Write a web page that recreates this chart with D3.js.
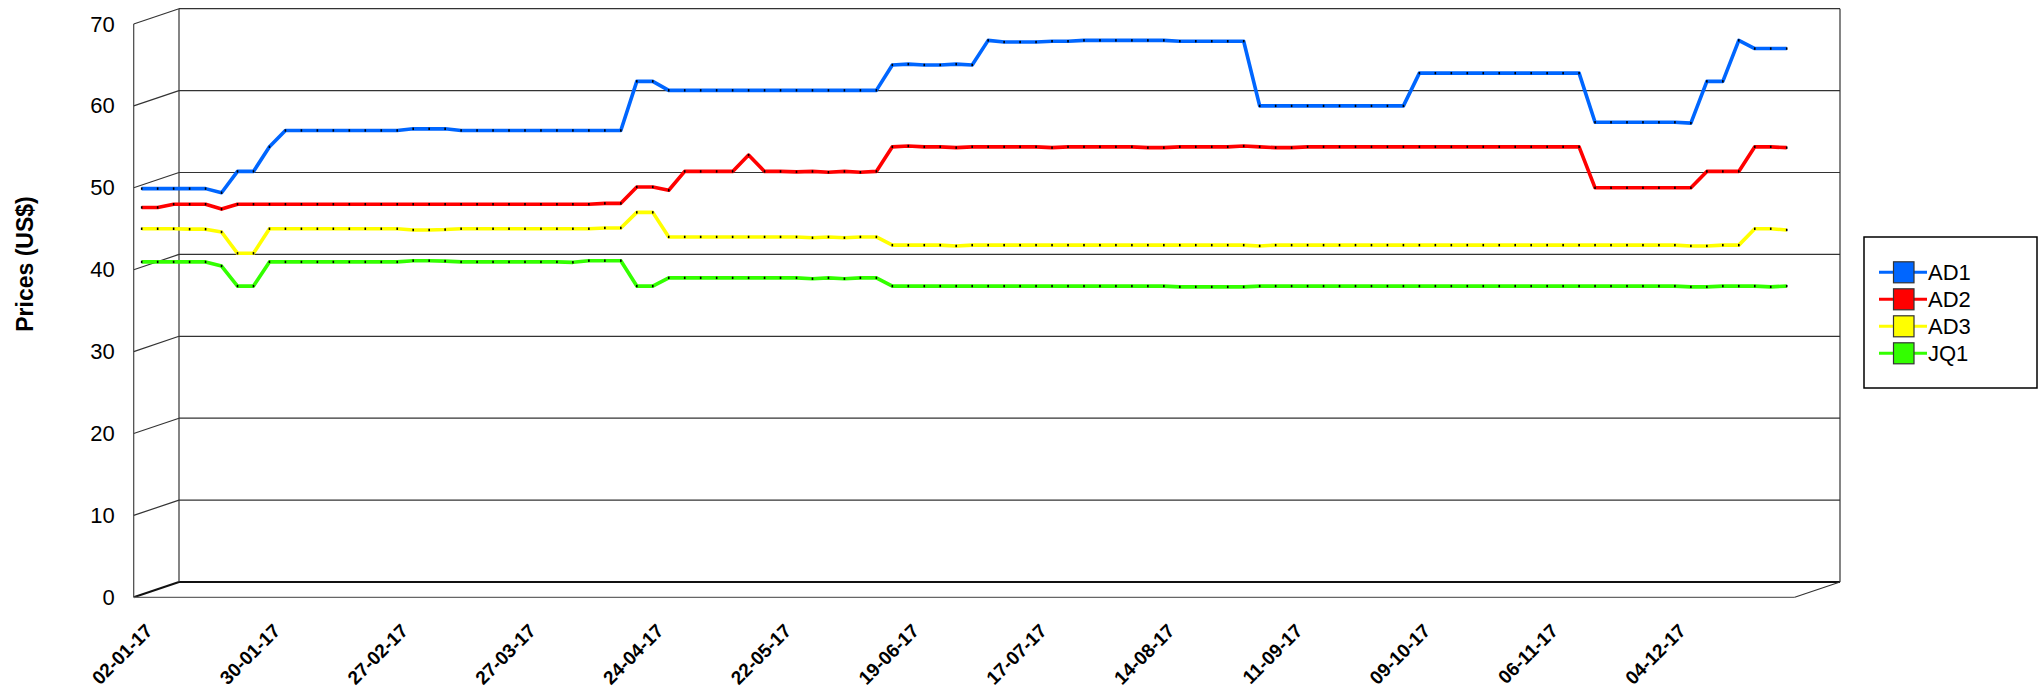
<!DOCTYPE html>
<html>
<head>
<meta charset="utf-8">
<script src="https://d3js.org/d3.v7.min.js"></script>
<style>
body { margin: 0; background: #fff; }
text { font-family: "Liberation Sans", Arial, sans-serif; }
</style>
</head>
<body>
<script>
// twice-weekly prices, 2017
var seriesNames = ['AD1', 'AD2', 'AD3', 'JQ1'];
var seriesColors = ['#0066ff', '#ff0000', '#ffff00', '#33ff00'];

var ad1 = [49.9, 49.9, 49.9, 49.9, 49.9, 49.4, 52, 52, 55, 57,
  57, 57, 57, 57, 57, 57, 57, 57.2, 57.2, 57.2,
  57, 57, 57, 57, 57, 57, 57, 57, 57, 57,
  57, 63, 63, 61.9, 61.9, 61.9, 61.9, 61.9, 61.9, 61.9,
  61.9, 61.9, 61.9, 61.9, 61.9, 61.9, 61.9, 65, 65.1, 65,
  65, 65.1, 65, 68, 67.8, 67.8, 67.8, 67.9, 67.9, 68,
  68, 68, 68, 68, 68, 67.9, 67.9, 67.9, 67.9, 67.9,
  60, 60, 60, 60, 60, 60, 60, 60, 60, 60,
  64, 64, 64, 64, 64, 64, 64, 64, 64, 64,
  64, 58, 58, 58, 58, 58, 58, 57.9, 63, 63,
  68, 67, 67, 67];

var ad2 = [47.6, 47.6, 48, 48, 48, 47.4, 48, 48, 48, 48,
  48, 48, 48, 48, 48, 48, 48, 48, 48, 48,
  48, 48, 48, 48, 48, 48, 48, 48, 48, 48.1,
  48.1, 50.1, 50.1, 49.7, 52, 52, 52, 52, 54, 52,
  52, 51.95, 52, 51.9, 52, 51.9, 52, 55, 55.1, 55,
  55, 54.9, 55, 55, 55, 55, 55, 54.9, 55, 55,
  55, 55, 55, 54.9, 54.9, 55, 55, 55, 55, 55.1,
  55, 54.9, 54.9, 55, 55, 55, 55, 55, 55, 55,
  55, 55, 55, 55, 55, 55, 55, 55, 55, 55,
  55, 50, 50, 50, 50, 50, 50, 50, 52, 52,
  52, 55, 55, 54.9];

var ad3 = [45, 45, 45, 44.95, 44.95, 44.6, 42, 42, 45, 45,
  45, 45, 45, 45, 45, 45, 45, 44.85, 44.85, 44.9,
  45, 45, 45, 45, 45, 45, 45, 45, 45, 45.1,
  45.1, 47, 47, 44, 44, 44, 44, 44, 44, 44,
  44, 44, 43.9, 44, 43.9, 44, 44, 43, 43, 43,
  43, 42.9, 43, 43, 43, 43, 43, 43, 43, 43,
  43, 43, 43, 43, 43, 43, 43, 43, 43, 43,
  42.9, 43, 43, 43, 43, 43, 43, 43, 43, 43,
  43, 43, 43, 43, 43, 43, 43, 43, 43, 43,
  43, 43, 43, 43, 43, 43, 43, 42.9, 42.9, 43,
  43, 45, 45, 44.85];

var jq1 = [40.95, 40.95, 40.95, 40.95, 40.95, 40.45, 38, 38, 40.95, 40.95,
  40.95, 40.95, 40.95, 40.95, 40.95, 40.95, 40.95, 41.1, 41.1, 41.05,
  40.95, 40.95, 40.95, 40.95, 40.95, 40.95, 40.95, 40.9, 41.1, 41.1,
  41.1, 38, 38, 39, 39, 39, 39, 39, 39, 39,
  39, 39, 38.9, 39, 38.9, 39, 39, 38, 38, 38,
  38, 38, 38, 38, 38, 38, 38, 38, 38, 38,
  38, 38, 38, 38, 38, 37.9, 37.9, 37.9, 37.9, 37.9,
  38, 38, 38, 38, 38, 38, 38, 38, 38, 38,
  38, 38, 38, 38, 38, 38, 38, 38, 38, 38,
  38, 38, 38, 38, 38, 38, 38, 37.9, 37.9, 38,
  38, 38, 37.9, 38];

// one label every 8th point
var tickLabels = ['02-01-17', '30-01-17', '27-02-17', '27-03-17', '24-04-17', '22-05-17',
  '19-06-17', '17-07-17', '14-08-17', '11-09-17', '09-10-17', '06-11-17', '04-12-17'];
var labelStep = 8;

var yTicks = [0, 10, 20, 30, 40, 50, 60, 70];

var allSeries = [ad1, ad2, ad3, jq1];
var n = ad1.length;

var width = 2040, height = 689;
var left = 133.7, right = 1794.7;
var depthX = 45.3, depthY = -15.3;

var svg = d3.select('body').append('svg')
  .attr('width', width)
  .attr('height', height);

var x = d3.scalePoint()
  .domain(d3.range(n))
  .range([left, right])
  .padding(0.5);

var y = d3.scaleLinear()
  .domain([0, 70])
  .range([597.3, 24]);

var grid = svg.append('g');

// back wall grid
yTicks.forEach(function(v) {
  grid.append('line')
    .attr('x1', left + depthX).attr('x2', right + depthX)
    .attr('y1', y(v) + depthY).attr('y2', y(v) + depthY)
    .attr('stroke', v === 0 ? '#111' : '#333')
    .attr('stroke-width', v === 0 ? 2 : 1.2);
  // side wall diagonals
  grid.append('line')
    .attr('x1', left).attr('y1', y(v))
    .attr('x2', left + depthX).attr('y2', y(v) + depthY)
    .attr('stroke', v === 0 ? '#111' : '#333')
    .attr('stroke-width', v === 0 ? 2 : 1.2);
});

[left + depthX, right + depthX].forEach(function(px) {
  grid.append('line')
    .attr('x1', px).attr('x2', px)
    .attr('y1', y(70) + depthY).attr('y2', y(0) + depthY)
    .attr('stroke', '#333').attr('stroke-width', 1.2);
});

// front axis line
grid.append('line')
  .attr('x1', left).attr('x2', left)
  .attr('y1', y(70)).attr('y2', y(0))
  .attr('stroke', '#444').attr('stroke-width', 1.2);

// floor edges
grid.append('line')
  .attr('x1', left).attr('x2', right)
  .attr('y1', y(0)).attr('y2', y(0))
  .attr('stroke', '#666').attr('stroke-width', 1.2);
grid.append('line')
  .attr('x1', right).attr('y1', y(0))
  .attr('x2', right + depthX).attr('y2', y(0) + depthY)
  .attr('stroke', '#333').attr('stroke-width', 1.2);

// y axis labels
var yAxis = svg.append('g')
  .attr('transform', 'translate(' + left + ',0)')
  .call(d3.axisLeft(y).tickValues(yTicks).tickSize(0).tickPadding(19));
yAxis.select('.domain').remove();
yAxis.selectAll('text')
  .style('font-family', '"Liberation Sans", Arial, sans-serif')
  .style('font-size', '22px')
  .attr('fill', '#000');

// y title
svg.append('text')
  .attr('transform', 'translate(33,264) rotate(-90)')
  .attr('text-anchor', 'middle')
  .style('font-size', '23px')
  .style('font-weight', 'bold')
  .text('Prices (US$)');

// x labels
svg.append('g').selectAll('text')
  .data(tickLabels)
  .enter().append('text')
  .attr('transform', function(d, i) {
    return 'translate(' + (x(i * labelStep) + 12) + ',632) rotate(-45)';
  })
  .attr('text-anchor', 'end')
  .style('font-size', '19px')
  .style('font-weight', 'bold')
  .text(function(d) { return d; });

// lines
var line = d3.line()
  .x(function(d, i) { return x(i); })
  .y(function(d) { return y(d); });

allSeries.forEach(function(s, k) {
  var g = svg.append('g');
  g.append('path')
    .datum(s)
    .attr('fill', 'none')
    .attr('stroke', seriesColors[k])
    .attr('stroke-width', 3.6)
    .attr('stroke-linejoin', 'round')
    .attr('d', line);
  g.selectAll('rect')
    .data(s)
    .enter().append('rect')
    .attr('x', function(d, i) { return x(i) - 0.8; })
    .attr('y', function(d) { return y(d) - 1.2; })
    .attr('width', 1.6)
    .attr('height', 2.4)
    .attr('fill', '#000');
});

// legend
var legend = svg.append('g');
legend.append('rect')
  .attr('x', 1864).attr('y', 237)
  .attr('width', 173).attr('height', 151)
  .attr('fill', '#fff')
  .attr('stroke', '#000')
  .attr('stroke-width', 1.5);

seriesNames.forEach(function(name, k) {
  var cy = 272.3 + k * 27;
  legend.append('line')
    .attr('x1', 1879).attr('x2', 1927)
    .attr('y1', cy).attr('y2', cy)
    .attr('stroke', seriesColors[k])
    .attr('stroke-width', 3);
  legend.append('rect')
    .attr('x', 1893.5).attr('y', cy - 10.5)
    .attr('width', 20.5).attr('height', 21)
    .attr('fill', seriesColors[k])
    .attr('stroke', '#333')
    .attr('stroke-width', 1.2);
  legend.append('text')
    .attr('x', 1928).attr('y', cy)
    .attr('dy', '0.36em')
    .style('font-size', '22px')
    .text(name);
});
</script>
</body>
</html>
